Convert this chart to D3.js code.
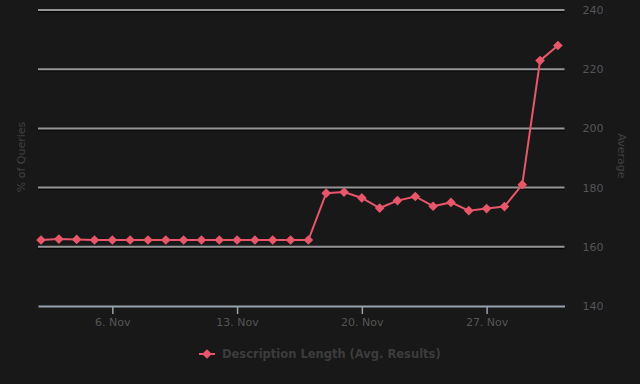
<!DOCTYPE html>
<html>
<head>
<meta charset="utf-8">
<script src="https://cdn.jsdelivr.net/npm/d3@7"></script>
<style>
  html, body { margin: 0; padding: 0; background: #181818; }
  svg { display: block; font-family: "DejaVu Sans", sans-serif; }
</style>
</head>
<body>
<svg id="chart"></svg>
<script>
/* données */
const startDay = new Date(2015, 10, 2)   // 2 Nov
const values = [162.3, 162.6, 162.5, 162.3, 162.3, 162.3, 162.3, 162.3, 162.3, 162.3,
                162.3, 162.3, 162.3, 162.3, 162.3, 162.3, 178.1, 178.5, 176.5, 173.1,
                175.6, 177.0, 173.7, 175.0, 172.2, 172.9, 173.6, 181.0, 222.9, 228.0]
const yTicks = [140, 160, 180, 200, 220, 240]
const xTickDays = [6, 13, 20, 27]
const seriesName = 'Description Length (Avg. Results)'
const leftTitle = '% of Queries'
const rightTitle = 'Average'

const width = 640, height = 384
const plot = {left: 38, right: 564.5, top: 10, bottom: 306}
const red = '#e8566a'

const dayMs = 86400000
const dates = values.map((v, i) => new Date(startDay.getTime() + i * dayMs))
const data = values.map((v, i) => ({date: dates[i], value: v}))

const svg = d3.select('#chart').attr('width', width).attr('height', height)

svg.append('rect').attr('width', width).attr('height', height).attr('fill', '#181818')

/* échelles */
const xScale = d3.scaleTime()
  .domain([new Date(startDay.getTime() - 0.17 * dayMs), new Date(dates[dates.length - 1].getTime() + 0.37 * dayMs)])
  .range([plot.left, plot.right])

const yScale = d3.scaleLinear()
  .domain([140, 240])
  .range([plot.bottom, plot.top])

/* grille */
const grid = svg.append('g')
yTicks.filter(t => t !== 140).forEach(t => {
  grid.append('line')
    .attr('x1', plot.left).attr('x2', plot.right)
    .attr('y1', yScale(t) + 1).attr('y2', yScale(t) + 1)
    .attr('stroke', '#000').attr('stroke-width', 3).attr('opacity', 0.6)
  grid.append('line')
    .attr('x1', plot.left).attr('x2', plot.right)
    .attr('y1', yScale(t)).attr('y2', yScale(t))
    .attr('stroke', '#959595').attr('stroke-width', 2)
})

/* axe des x */
const xAxis = d3.axisBottom(xScale)
  .tickValues(xTickDays.map(d => new Date(2015, 10, d)))
  .tickFormat(d => d.getDate() + '. Nov')
  .tickSize(8)
  .tickSizeOuter(0)
  .tickPadding(4)

const gx = svg.append('g')
  .attr('transform', 'translate(0,' + plot.bottom + ')')
  .call(xAxis)
gx.select('.domain').attr('stroke', '#97a2b0').attr('stroke-width', 2)
gx.selectAll('.tick line').attr('stroke', '#97a2b0').attr('stroke-width', 1.5)
gx.selectAll('.tick text').attr('fill', '#555').style('font-size', '11px')
  .attr('font-family', '"DejaVu Sans", sans-serif')

/* axe des y à droite */
const yAxis = d3.axisRight(yScale)
  .tickValues(yTicks)
  .tickSize(0)
  .tickPadding(18)

const gy = svg.append('g')
  .attr('transform', 'translate(' + plot.right + ',0)')
  .call(yAxis)
gy.select('.domain').remove()
gy.selectAll('.tick text').attr('fill', '#555').style('font-size', '11px')
  .attr('font-family', '"DejaVu Sans", sans-serif')

/* titres des axes */
svg.append('text')
  .attr('transform', 'translate(25,157) rotate(-90)')
  .attr('text-anchor', 'middle')
  .attr('fill', '#404040')
  .style('font-size', '11px')
  .text(leftTitle)

svg.append('text')
  .attr('transform', 'translate(618,156) rotate(90)')
  .attr('text-anchor', 'middle')
  .attr('fill', '#404040')
  .style('font-size', '11px')
  .text(rightTitle)

/* série */
const line = d3.line()
  .x(d => xScale(d.date))
  .y(d => yScale(d.value))

svg.append('path')
  .datum(data)
  .attr('fill', 'none')
  .attr('stroke', red)
  .attr('stroke-width', 2)
  .attr('d', line)

const diamond = d3.symbol().type(d3.symbolDiamond2).size(60)

svg.selectAll('.pt')
  .data(data)
  .enter()
  .append('path')
  .attr('class', 'pt')
  .attr('d', diamond)
  .attr('transform', d => 'translate(' + xScale(d.date) + ',' + yScale(d.value) + ')')
  .attr('fill', red)

/* légende */
const legend = svg.append('g').attr('transform', 'translate(207,354)')
legend.append('line')
  .attr('x1', -8).attr('x2', 8)
  .attr('stroke', red).attr('stroke-width', 2)
legend.append('path')
  .attr('d', diamond)
  .attr('fill', red)
legend.append('text')
  .attr('x', 15).attr('y', 4)
  .attr('fill', '#3c3c3c')
  .style('font-size', '11.5px')
  .style('font-weight', 'bold')
  .text(seriesName)
</script>
</body>
</html>
